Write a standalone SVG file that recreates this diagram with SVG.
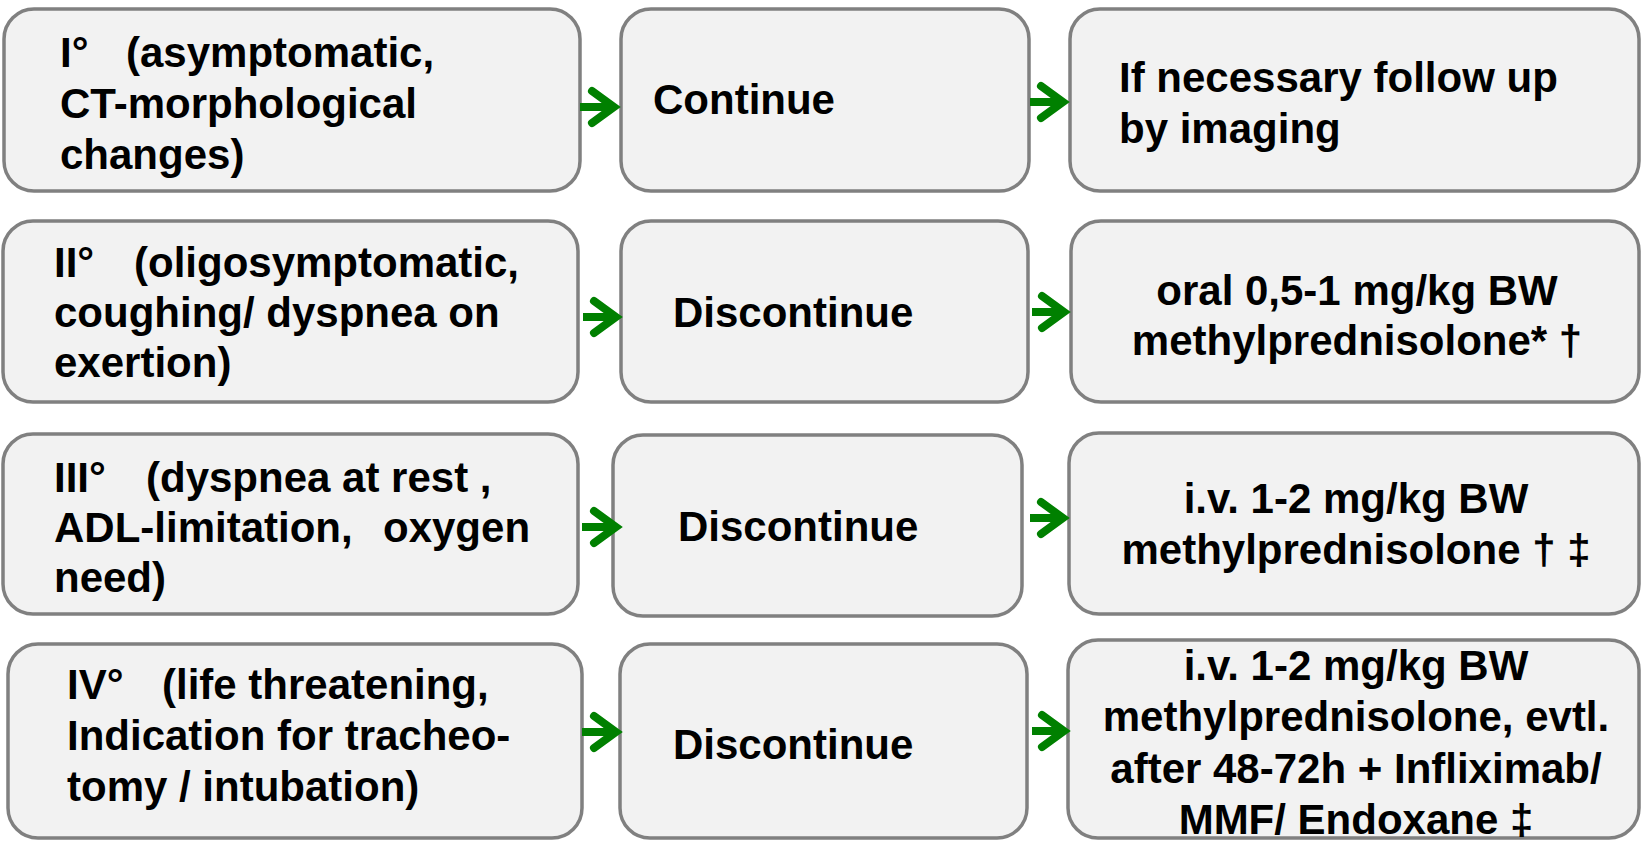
<svg xmlns="http://www.w3.org/2000/svg" width="1641" height="841" viewBox="0 0 1641 841">
<style>
.box{fill:#f2f2f2;stroke:#808080;stroke-width:3.5}
text{font-family:"Liberation Sans",Arial,sans-serif;font-weight:bold;font-size:42px;fill:#000}
.c{text-anchor:middle}
.shaft{stroke:#008000;stroke-width:8;fill:none;stroke-linecap:butt}
</style>
<defs>
<marker id="ah" markerUnits="userSpaceOnUse" markerWidth="60" markerHeight="60" viewBox="0 0 60 60" refX="32" refY="30" orient="auto" overflow="visible">
<path d="M10 14 L32 30 L10 46" fill="none" stroke="#008000" stroke-width="8" stroke-linecap="round" stroke-linejoin="miter"/>
</marker>
</defs>
<rect width="1641" height="841" fill="#fff"/>

<g id="r1a"><rect class="box" x="4" y="9" width="576" height="182" rx="30"/>
<text x="60" y="67">I°<tspan x="126">(asymptomatic,</tspan><tspan x="60" y="118">CT-morphological</tspan><tspan x="60" y="169">changes)</tspan></text></g>
<g id="r1b"><rect class="box" x="621" y="9" width="408" height="182" rx="30"/>
<text x="653" y="114">Continue</text></g>
<g id="r1c"><rect class="box" x="1070" y="9" width="569" height="182" rx="30"/>
<text x="1119" y="92">If necessary follow up<tspan x="1119" y="143">by imaging</tspan></text></g>

<g id="r2a"><rect class="box" x="3" y="221" width="575" height="181" rx="30"/>
<text x="54" y="277">II°<tspan x="134">(oligosymptomatic,</tspan><tspan x="54" y="327">coughing/ dyspnea on</tspan><tspan x="54" y="377">exertion)</tspan></text></g>
<g id="r2b"><rect class="box" x="621" y="221" width="407" height="181" rx="30"/>
<text x="673" y="327">Discontinue</text></g>
<g id="r2c"><rect class="box" x="1071" y="221" width="568" height="181" rx="30"/>
<text class="c" x="1357" y="305">oral 0,5-1 mg/kg BW<tspan x="1357" y="355">methylprednisolone* †</tspan></text></g>

<g id="r3a"><rect class="box" x="3" y="434" width="575" height="180" rx="30"/>
<text x="54" y="492">III°<tspan x="146">(dyspnea at rest ,</tspan><tspan x="54" y="542">ADL-limitation,</tspan><tspan x="383">oxygen</tspan><tspan x="54" y="592">need)</tspan></text></g>
<g id="r3b"><rect class="box" x="613" y="435" width="409" height="181" rx="30"/>
<text x="678" y="541">Discontinue</text></g>
<g id="r3c"><rect class="box" x="1069" y="433" width="570" height="181" rx="30"/>
<text class="c" x="1356" y="513">i.v. 1-2 mg/kg BW<tspan x="1356" y="564">methylprednisolone † ‡</tspan></text></g>

<g id="r4a"><rect class="box" x="8" y="644" width="574" height="194" rx="30"/>
<text x="67" y="699">IV°<tspan x="162">(life threatening,</tspan><tspan x="67" y="750">Indication for tracheo-</tspan><tspan x="67" y="801">tomy / intubation)</tspan></text></g>
<g id="r4b"><rect class="box" x="620" y="644" width="407" height="194" rx="30"/>
<text x="673" y="759">Discontinue</text></g>
<g id="r4c"><rect class="box" x="1068" y="640" width="571" height="198" rx="30"/>
<text class="c" x="1356" y="680">i.v. 1-2 mg/kg BW<tspan x="1356" y="731">methylprednisolone, evtl.</tspan><tspan x="1356" y="783">after 48-72h + Infliximab/</tspan><tspan x="1356" y="834">MMF/ Endoxane ‡</tspan></text></g>

<g id="connectors">
<path class="shaft" d="M580 107 H614" marker-end="url(#ah)"/>
<path class="shaft" d="M1030 102 H1063" marker-end="url(#ah)"/>
<path class="shaft" d="M583 317 H616" marker-end="url(#ah)"/>
<path class="shaft" d="M1032 312 H1064" marker-end="url(#ah)"/>
<path class="shaft" d="M582 527 H616" marker-end="url(#ah)"/>
<path class="shaft" d="M1030 518 H1063" marker-end="url(#ah)"/>
<path class="shaft" d="M582 732 H616" marker-end="url(#ah)"/>
<path class="shaft" d="M1032 731 H1064" marker-end="url(#ah)"/>
</g>
</svg>
